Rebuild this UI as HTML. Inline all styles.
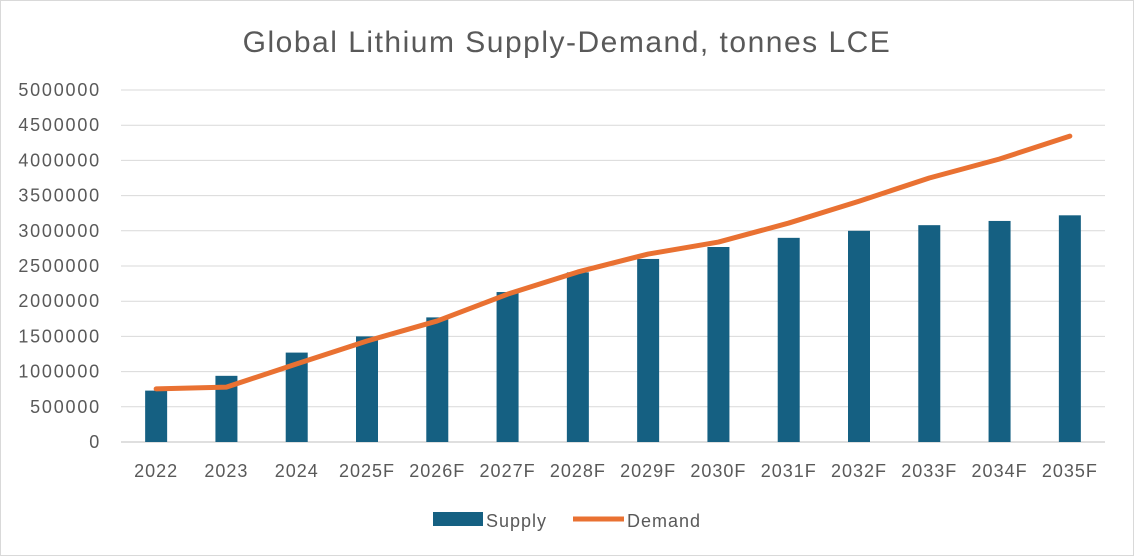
<!DOCTYPE html>
<html><head><meta charset="utf-8"><style>
html,body{margin:0;padding:0;background:#fff;}
svg{display:block;font-family:"Liberation Sans",sans-serif;}
</style></head><body>
<svg width="1134" height="560">
<rect x="0.5" y="0.5" width="1133" height="555" fill="#fff" stroke="#d9d9d9"/>
<text x="567" y="52" text-anchor="middle" font-size="30" letter-spacing="1.5" fill="#595959">Global Lithium Supply-Demand, tonnes LCE</text>
<g id="grid"></g>
<g id="yticks"></g>
<g id="bars"></g>
<g id="line"></g>
<g id="xticks"></g>
<g>
<rect x="433" y="512" width="50" height="14" fill="#156082"/>
<text x="486" y="527" font-size="18" letter-spacing="1" fill="#595959">Supply</text>
<line x1="573" y1="519" x2="624" y2="519" stroke="#e97132" stroke-width="5"/>
<text x="627" y="527" font-size="18" letter-spacing="1" fill="#595959">Demand</text>
</g>
</svg>
<script>
const categories=["2022","2023","2024","2025F","2026F","2027F","2028F","2029F","2030F","2031F","2032F","2033F","2034F","2035F"];
const supply=[730000,940000,1270000,1500000,1770000,2130000,2410000,2600000,2770000,2900000,3000000,3080000,3140000,3220000];
const demand=[755000,780000,1110000,1435000,1720000,2100000,2415000,2670000,2840000,3110000,3420000,3750000,4020000,4345000];
const yTicks=[0,500000,1000000,1500000,2000000,2500000,3000000,3500000,4000000,4500000,5000000];
const ns="http://www.w3.org/2000/svg";
const L=121,R=1105,T=90,B=442,yMax=5000000;
const step=(R-L)/categories.length;
const x=i=>L+step*(i+0.5);
const y=v=>B-(v/yMax)*(B-T);
function mk(tag,attrs,parent){const e=document.createElementNS(ns,tag);for(const k in attrs)e.setAttribute(k,attrs[k]);parent.appendChild(e);return e;}
const grid=document.getElementById('grid'),yt=document.getElementById('yticks');
yTicks.forEach(v=>{
 const l=mk('line',{x1:L,x2:R,y1:y(v),y2:y(v),stroke:v===0?'#bfbfbf':'#d9d9d9','stroke-width':1},grid);
 
 
 const t=mk('text',{x:101,y:y(v)+6,'text-anchor':'end','font-size':18,'letter-spacing':1.8,fill:'#595959'},yt);
 t.textContent=String(v);
 
 
});
const bars=document.getElementById('bars'),xt=document.getElementById('xticks');
categories.forEach((c,i)=>{
 const b=mk('rect',{x:x(i)-11,y:y(supply[i]),width:22,height:B-y(supply[i]),fill:'#156082'},bars);
 
 
 const t=mk('text',{x:x(i),y:477,'text-anchor':'middle','font-size':18,'letter-spacing':1,fill:'#595959'},xt);
 t.textContent=c;
 
 
});
const p=mk('polyline',{points:demand.map((v,i)=>x(i)+','+y(v)).join(' '),fill:'none',stroke:'#e97132','stroke-width':5,'stroke-linejoin':'round','stroke-linecap':'round'},document.getElementById('line'));


</script>
</body></html>
